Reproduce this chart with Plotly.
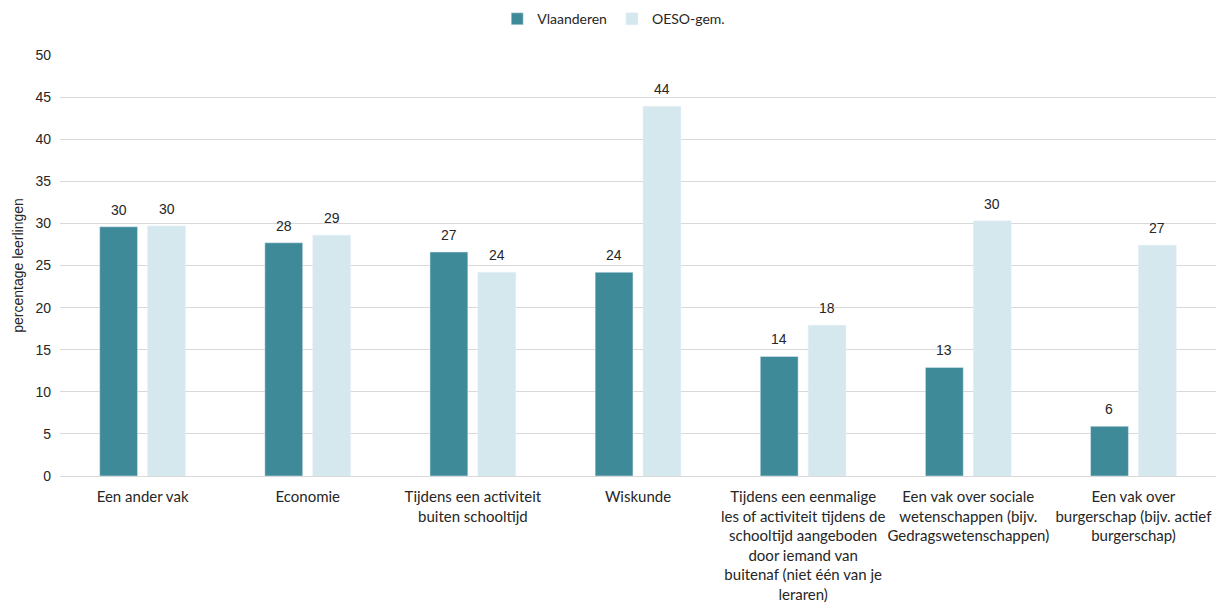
import plotly.graph_objects as go

categories = [
    "Een ander vak",
    "Economie",
    "Tijdens een activiteit<br>buiten schooltijd",
    "Wiskunde",
    "Tijdens een eenmalige<br>les of activiteit tijdens de<br>schooltijd aangeboden<br>door iemand van<br>buitenaf (niet één van je<br>leraren)",
    "Een vak over sociale<br>wetenschappen (bijv.<br>Gedragswetenschappen)",
    "Een vak over<br>burgerschap (bijv. actief<br>burgerschap)",
]
vlaanderen = [29.6, 27.7, 26.6, 24.2, 14.2, 12.9, 5.9]
oeso = [29.7, 28.6, 24.2, 43.9, 17.9, 30.3, 27.4]

series = [("Vlaanderen", vlaanderen, "#3E8A99", -24), ("OESO-gem.", oeso, "#D5E8EE", 24)]

fig = go.Figure()
annotations = []
for name, vals, color, shift in series:
    fig.add_trace(go.Bar(name=name, x=categories, y=vals, marker_color=color))
    for c, v in zip(categories, vals):
        annotations.append(dict(
            x=c, y=v, xref="x", yref="y", text=f"{v:.0f}", showarrow=False,
            xshift=shift, yanchor="bottom", yshift=7,
            font=dict(family="Liberation Sans", size=14, color="#262626"),
        ))

fig.update_layout(
    width=1216, height=605,
    margin=dict(l=60, r=0, t=55, b=129),
    barmode="group", bargap=0.42, bargroupgap=0.21,
    plot_bgcolor="white", paper_bgcolor="white",
    font=dict(family="Lato", size=15, color="#262626"),
    legend=dict(orientation="h", x=0.479, xanchor="center", y=1.085, yanchor="middle",
                font=dict(size=14, family="Lato"), itemwidth=30),
    showlegend=True,
    annotations=annotations,
)
fig.update_yaxes(
    range=[0, 50], dtick=5, showgrid=True, gridcolor="#D9D9D9", gridwidth=1,
    zeroline=True, zerolinecolor="#D9D9D9", zerolinewidth=1,
    tickfont=dict(family="Liberation Sans", size=14, color="#262626"),
    ticks="", ticklabelstandoff=8,
    title=dict(text="percentage leerlingen", font=dict(family="Liberation Sans", size=14), standoff=8),
)
fig.update_xaxes(
    tickfont=dict(family="Lato", size=15, color="#262626"),
    tickangle=0, showline=False, ticks="", ticklabelstandoff=10,
)

fig.write_html("out.html")
